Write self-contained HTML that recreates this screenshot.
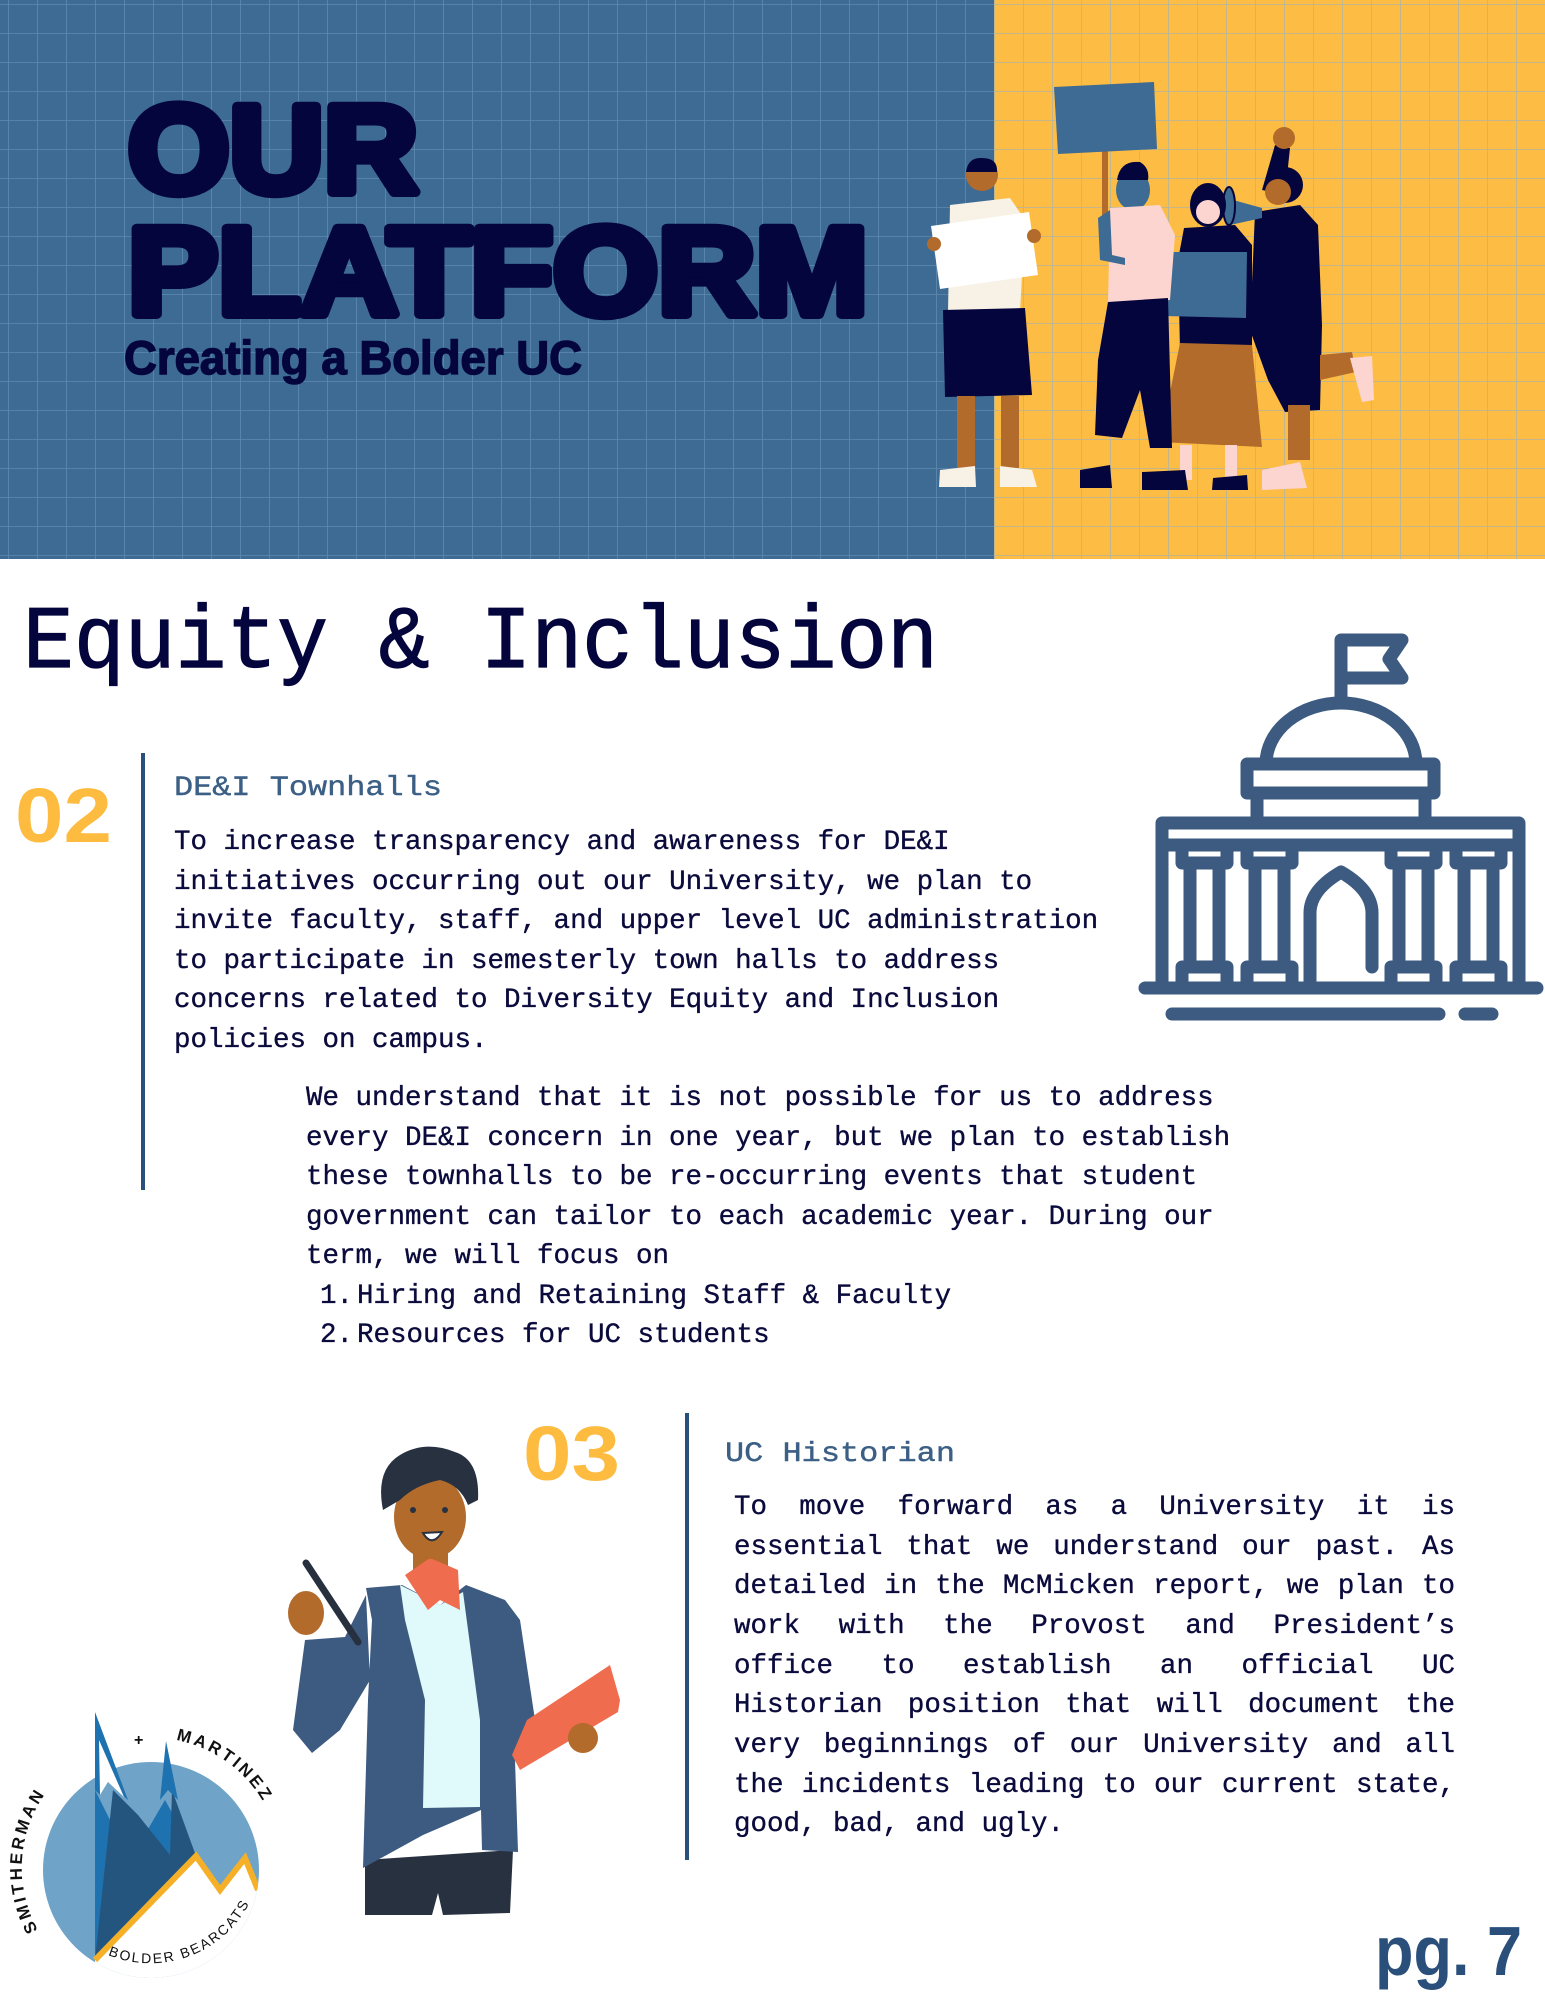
<!DOCTYPE html>
<html><head><meta charset="utf-8">
<style>
html,body{margin:0;padding:0;background:#fff;}
#wrap{position:relative;width:1545px;height:2000px;}
svg{display:block;position:absolute;left:0;top:0;}
.mono{font-family:"Liberation Mono",monospace;}
.body{font-family:"Liberation Mono",monospace;font-size:27.5px;fill:#0a0a3c;stroke:#0a0a3c;stroke-width:0.35;}
#hist{position:absolute;left:734px;top:1488px;width:721px;font-family:"Liberation Mono",monospace;font-size:27.5px;line-height:39.65px;color:#0a0a3c;-webkit-text-stroke:0.35px #0a0a3c;text-align:justify;margin:0;}
</style></head>
<body>
<div id="wrap">
<svg width="1545" height="2000" viewBox="0 0 1545 2000" xmlns="http://www.w3.org/2000/svg">
<defs>
<pattern id="gridB" x="8" y="4" width="29" height="29" patternUnits="userSpaceOnUse">
<path d="M0 0 H29 M0 0 V29" stroke="#6f97bd" stroke-width="1.6" fill="none" opacity="0.7"/>
</pattern>
<pattern id="gridY" x="8" y="4" width="29" height="29" patternUnits="userSpaceOnUse">
<path d="M0 0 H29 M0 0 V29" stroke="#9fb0b8" stroke-width="1.6" fill="none" opacity="0.8"/>
</pattern>
<clipPath id="logoClip"><circle cx="151" cy="1870" r="108"/></clipPath>
<path id="arcL" d="M 38 1930 A 128 128 0 0 1 95 1752"/>
<path id="arcR" d="M 176 1740 A 130 130 0 0 1 280 1850"/>
<path id="arcB" d="M 108 1955 A 112 112 0 0 0 252 1898"/>
</defs>

<g>
<rect x="0" y="0" width="994" height="559" fill="#3d6b93"/>
<rect x="0" y="0" width="994" height="559" fill="url(#gridB)"/>
<rect x="994" y="0" width="551" height="559" fill="#fdbd45"/>
<rect x="994" y="0" width="551" height="559" fill="url(#gridY)"/>
</g>
<text x="128" y="192" font-family="Liberation Sans, sans-serif" font-weight="bold" font-size="124" fill="#05053d" stroke="#05053d" stroke-width="10" stroke-linejoin="round" textLength="290" lengthAdjust="spacingAndGlyphs">OUR</text>
<text x="128" y="314" font-family="Liberation Sans, sans-serif" font-weight="bold" font-size="124" fill="#05053d" stroke="#05053d" stroke-width="10" stroke-linejoin="round" textLength="740" lengthAdjust="spacingAndGlyphs">PLATFORM</text>
<text x="124" y="374" font-family="Liberation Sans, sans-serif" font-weight="bold" font-size="47" fill="#05053d" stroke="#05053d" stroke-width="1.5" textLength="458" lengthAdjust="spacingAndGlyphs">Creating a Bolder UC</text>

<g>
 <polygon points="1262,190 1275,145 1290,148 1285,195" fill="#05053d"/>
 <circle cx="1284" cy="138" r="11" fill="#b36b2b"/>
 <circle cx="1285" cy="185" r="18" fill="#05053d"/>
 <circle cx="1278" cy="192" r="13" fill="#b36b2b"/>
 <polygon points="1255,212 1300,205 1318,225 1322,325 1320,410 1285,412 1268,380 1250,330" fill="#05053d"/>
 <polygon points="1320,355 1352,352 1356,372 1320,380" fill="#b36b2b"/>
 <polygon points="1350,358 1372,356 1374,400 1362,402" fill="#fdd5d0"/>
 <rect x="1288" y="405" width="22" height="55" fill="#b36b2b"/>
 <polygon points="1262,470 1300,462 1307,488 1262,490" fill="#fdd5d0"/>
 <polygon points="1226,198 1262,208 1262,218 1230,225" fill="#3d6b93"/>
 <ellipse cx="1229" cy="206" rx="6" ry="19" fill="#3d6b93" stroke="#05053d" stroke-width="2"/>
 <ellipse cx="1208" cy="205" rx="18" ry="22" fill="#05053d"/>
 <circle cx="1208" cy="212" r="12" fill="#fdd5d0"/>
 <polygon points="1184,228 1235,225 1252,245 1252,350 1180,350 1178,260" fill="#05053d"/>
 <polygon points="1180,343 1252,345 1262,447 1160,442" fill="#b36b2b"/>
 <rect x="1180" y="445" width="12" height="35" fill="#fdd5d0"/>
 <rect x="1225" y="445" width="12" height="35" fill="#fdd5d0"/>
 <polygon points="1213,478 1247,475 1248,490 1212,490" fill="#05053d"/>
 <polygon points="1165,252 1247,252 1246,318 1164,316" fill="#3d6b93"/>
 <rect x="1102" y="150" width="6" height="100" fill="#b36b2b"/>
 <polygon points="1054,87 1154,82 1157,149 1058,154" fill="#3d6b93"/>
 <ellipse cx="1133" cy="190" rx="17" ry="20" fill="#3d6b93"/>
 <path d="M1117 180 Q1120 160 1140 162 Q1150 168 1148 180 Z" fill="#05053d"/>
 <polygon points="1110,208 1160,205 1175,235 1170,300 1108,305" fill="#fdd5d0"/>
 <polygon points="1098,218 1110,210 1112,255 1125,258 1125,265 1100,260" fill="#3d6b93"/>
 <polygon points="1108,302 1168,298 1172,448 1150,448 1140,390 1122,438 1095,435 1098,360" fill="#05053d"/>
 <polygon points="1080,470 1110,465 1112,488 1080,488" fill="#05053d"/>
 <polygon points="1142,472 1185,470 1188,490 1142,490" fill="#05053d"/>
 <circle cx="982" cy="175" r="16" fill="#b36b2b"/>
 <path d="M966 172 Q968 157 982 158 Q998 158 997 172 Z" fill="#05053d"/>
 <polygon points="950,205 1010,198 1025,220 1020,312 948,312" fill="#f8f1e6"/>
 <polygon points="943,310 1025,308 1032,395 945,397" fill="#05053d"/>
 <rect x="957" y="396" width="18" height="72" fill="#b36b2b"/>
 <rect x="1001" y="396" width="18" height="72" fill="#b36b2b"/>
 <polygon points="940,470 975,466 976,487 939,487" fill="#f8f1e6"/>
 <polygon points="1000,466 1032,470 1037,487 1000,487" fill="#f8f1e6"/>
 <polygon points="931,226 1029,212 1038,275 940,289" fill="#ffffff"/>
 <circle cx="934" cy="244" r="7" fill="#b36b2b"/>
 <circle cx="1034" cy="236" r="7" fill="#b36b2b"/>
</g>

<text x="23" y="667" class="mono" font-size="89" fill="#05053d" stroke="#05053d" stroke-width="1.2" textLength="915" lengthAdjust="spacingAndGlyphs">Equity &amp; Inclusion</text>

<text x="15" y="842" font-family="Liberation Sans, sans-serif" font-weight="bold" font-size="77" fill="#fdbb3f" textLength="97" lengthAdjust="spacingAndGlyphs">02</text>
<rect x="141" y="753" width="4" height="437" fill="#2a4f7a"/>
<text x="174" y="795" class="mono" font-size="28" fill="#3b5f85" stroke="#3b5f85" stroke-width="0.4" textLength="268" lengthAdjust="spacingAndGlyphs">DE&amp;I Townhalls</text>
<g class="body">
<text x="174" y="849">To increase transparency and awareness for DE&amp;I</text>
<text x="174" y="889">initiatives occurring out our University, we plan to</text>
<text x="174" y="928">invite faculty, staff, and upper level UC administration</text>
<text x="174" y="968">to participate in semesterly town halls to address</text>
<text x="174" y="1007">concerns related to Diversity Equity and Inclusion</text>
<text x="174" y="1047">policies on campus.</text>
</g>
<g class="body">
<text x="306" y="1105">We understand that it is not possible for us to address</text>
<text x="306" y="1145">every DE&amp;I concern in one year, but we plan to establish</text>
<text x="306" y="1184">these townhalls to be re-occurring events that student</text>
<text x="306" y="1224">government can tailor to each academic year. During our</text>
<text x="306" y="1263">term, we will focus on</text>
</g>
<g class="body">
<text x="320" y="1303">1.</text><text x="357" y="1303">Hiring and Retaining Staff &amp; Faculty</text>
<text x="320" y="1342">2.</text><text x="357" y="1342">Resources for UC students</text>
</g>

<g fill="none" stroke="#3d5a80" stroke-width="13" stroke-linecap="round" stroke-linejoin="round">
<path d="M1341 697 V640 H1402 L1389 659 L1402 678 H1341"/>
<path d="M1266 764 A75 61 0 0 1 1416 764"/>
<rect x="1247" y="764" width="187" height="29"/>
<path d="M1257 793 V823 M1425 793 V823"/>
<rect x="1162" y="823" width="357" height="22"/>
<path d="M1162 845 V988 M1519 845 V988"/>
<path d="M1145 988 H1537"/>
<path d="M1172 1014 H1439 M1465 1014 H1492"/>
<path d="M1310 988 V913 Q1310 890 1341 872 Q1372 890 1372 913 V967"/>
<rect x="1182" y="845" width="45" height="18"/><rect x="1190" y="863" width="29" height="104"/><rect x="1182" y="967" width="45" height="21"/>
<rect x="1247" y="845" width="45" height="18"/><rect x="1255" y="863" width="29" height="104"/><rect x="1247" y="967" width="45" height="21"/>
<rect x="1391" y="845" width="45" height="18"/><rect x="1399" y="863" width="29" height="104"/><rect x="1391" y="967" width="45" height="21"/>
<rect x="1456" y="845" width="45" height="18"/><rect x="1464" y="863" width="29" height="104"/><rect x="1456" y="967" width="45" height="21"/>
</g>

<text x="523" y="1480" font-family="Liberation Sans, sans-serif" font-weight="bold" font-size="77" fill="#fdbb3f" textLength="97" lengthAdjust="spacingAndGlyphs">03</text>
<rect x="685" y="1413" width="4" height="447" fill="#2a4f7a"/>
<text x="725" y="1461" class="mono" font-size="28" fill="#3b5f85" stroke="#3b5f85" stroke-width="0.4" textLength="230" lengthAdjust="spacingAndGlyphs">UC Historian</text>

<g>
<polygon points="365,1860 513,1850 510,1913 443,1915 438,1893 432,1915 365,1915" fill="#283140"/>
<rect x="413" y="1540" width="35" height="45" fill="#b36b2b"/>
<polygon points="366,1588 402,1585 440,1605 466,1585 505,1600 520,1620 535,1720 515,1760 518,1852 482,1850 481,1810 423,1835 363,1868 368,1700 372,1620" fill="#3d5a80"/>
<polygon points="400,1585 440,1605 463,1592 480,1720 480,1807 423,1808 425,1700 405,1620" fill="#e0f9fa"/>
<polygon points="405,1575 430,1558 458,1570 460,1610 440,1600 428,1610" fill="#ef6c4f"/>
<polygon points="366,1595 345,1637 305,1640 293,1730 312,1753 340,1730 370,1680" fill="#3d5a80"/>
<ellipse cx="306" cy="1613" rx="18" ry="22" fill="#b36b2b"/>
<line x1="306" y1="1563" x2="358" y2="1642" stroke="#27303f" stroke-width="7" stroke-linecap="round"/>
<ellipse cx="430" cy="1517" rx="36" ry="42" fill="#b36b2b"/>
<path d="M383 1510 Q375 1470 400 1455 Q425 1440 455 1452 Q480 1460 478 1500 L468 1505 Q460 1485 440 1480 Q415 1485 400 1500 Z" fill="#283140"/>
<circle cx="413" cy="1510" r="3" fill="#283140"/><circle cx="445" cy="1510" r="3" fill="#283140"/>
<path d="M423 1533 Q432 1548 442 1532 Z" fill="#fff" stroke="#283140" stroke-width="2"/>
<polygon points="527,1720 610,1665 620,1700 618,1712 520,1770 512,1755" fill="#ef6c4f"/>
<circle cx="583" cy="1738" r="15" fill="#b36b2b"/>
</g>

<g>
<circle cx="151" cy="1870" r="108" fill="#6fa3c8"/>
<g clip-path="url(#logoClip)">
<polygon points="95,1960 95,1790 130,1860 165,1800 196,1856 196,1960" fill="#1e72b0"/>
<polygon points="95,1960 113,1790 138,1815 170,1855 172,1790 196,1856 196,1960" fill="#24557f"/>
<polygon points="95,1960 196,1856 220,1890 245,1858 258,1890 258,1990 95,1990" fill="#ffffff"/>
<polyline points="95,1960 196,1856 220,1890 245,1858 258,1890" fill="none" stroke="#f5b028" stroke-width="6"/>
</g>
<polygon points="95,1790 95,1712 128,1800 108,1782 100,1795" fill="#1e72b0"/>
<polygon points="99,1740 124,1797 108,1782 100,1795" fill="#fff"/>
<polygon points="160,1800 166,1741 178,1800 168,1790" fill="#1e72b0"/>
<text font-family="Liberation Sans, sans-serif" font-weight="bold" font-size="17" fill="#111" letter-spacing="3"><textPath href="#arcL">SMITHERMAN</textPath></text>
<text x="134" y="1745" font-family="Liberation Sans, sans-serif" font-weight="bold" font-size="16" fill="#111">+</text>
<text font-family="Liberation Sans, sans-serif" font-weight="bold" font-size="17" fill="#111" letter-spacing="3"><textPath href="#arcR">MARTINEZ</textPath></text>
<text font-family="Liberation Sans, sans-serif" font-size="14" fill="#111" letter-spacing="2"><textPath href="#arcB">BOLDER BEARCATS</textPath></text>
</g>

<text x="1375" y="1975" font-family="Liberation Sans, sans-serif" font-weight="bold" font-size="70" fill="#2a4f7a" textLength="147" lengthAdjust="spacingAndGlyphs">pg. 7</text>
</svg>
<p id="hist">To move forward as a University it is essential that we understand our past. As detailed in the McMicken report, we plan to work with the Provost and President’s office to establish an official UC Historian position that will document the very beginnings of our University and all the incidents leading to our current state, good, bad, and ugly.</p>
</div>
</body></html>
